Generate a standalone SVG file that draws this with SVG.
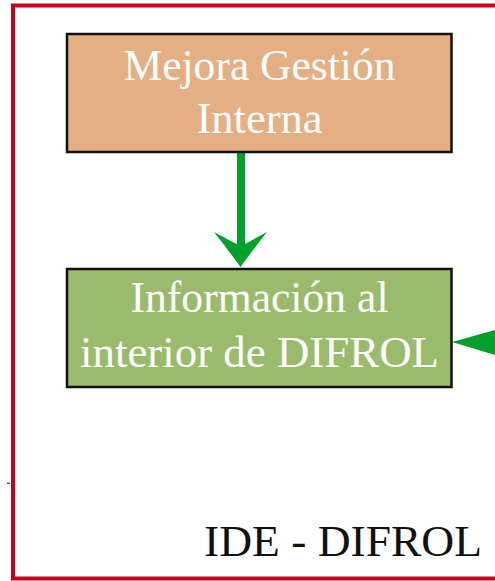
<svg xmlns="http://www.w3.org/2000/svg" width="495" height="581" viewBox="0 0 495 581">
<style>
.box{stroke:#111;stroke-width:2.5}
.lbl{font-family:"Liberation Serif","DejaVu Serif",serif;font-size:44px;fill:#fff;text-anchor:middle}
.ttl{font-family:"Liberation Serif","DejaVu Serif",serif;font-size:44px;fill:#111}
.arr{fill:#00A12B}
</style>
<rect x="0" y="0" width="495" height="581" fill="#fff"/>
<rect id="frame" x="13" y="5.5" width="500" height="573" fill="none" stroke="#C8001E" stroke-width="4"/>
<g id="connectors">
<line x1="241" y1="152" x2="241" y2="246" stroke="#00A12B" stroke-width="8"/>
<path class="arr" d="M240.5,267 Q229,251 214,232 L236.5,244 L245,244 L267,232 Q252,251 240.5,267 Z"/>
<path class="arr" d="M452,342 L495,330 L495,355 Z"/>
<rect class="arr" x="7" y="482.5" width="3" height="1.5"/>
</g>
<g id="node-mejora">
<rect class="box" x="67" y="34" width="384.5" height="118" fill="#E4AF84"/>
<text class="lbl" x="259.5" y="80" textLength="272" lengthAdjust="spacingAndGlyphs">Mejora Gestión</text>
<text class="lbl" x="259.5" y="133" textLength="126" lengthAdjust="spacingAndGlyphs">Interna</text>
</g>
<g id="node-informacion">
<rect class="box" x="67" y="269" width="384.5" height="118" fill="#9BBB6C"/>
<text class="lbl" x="259.5" y="312" textLength="258" lengthAdjust="spacingAndGlyphs">Información al</text>
<text class="lbl" x="259.5" y="367" textLength="359" lengthAdjust="spacingAndGlyphs">interior de DIFROL</text>
</g>
<text id="title" class="ttl" x="204" y="556" textLength="278" lengthAdjust="spacingAndGlyphs">IDE - DIFROL</text>
</svg>
